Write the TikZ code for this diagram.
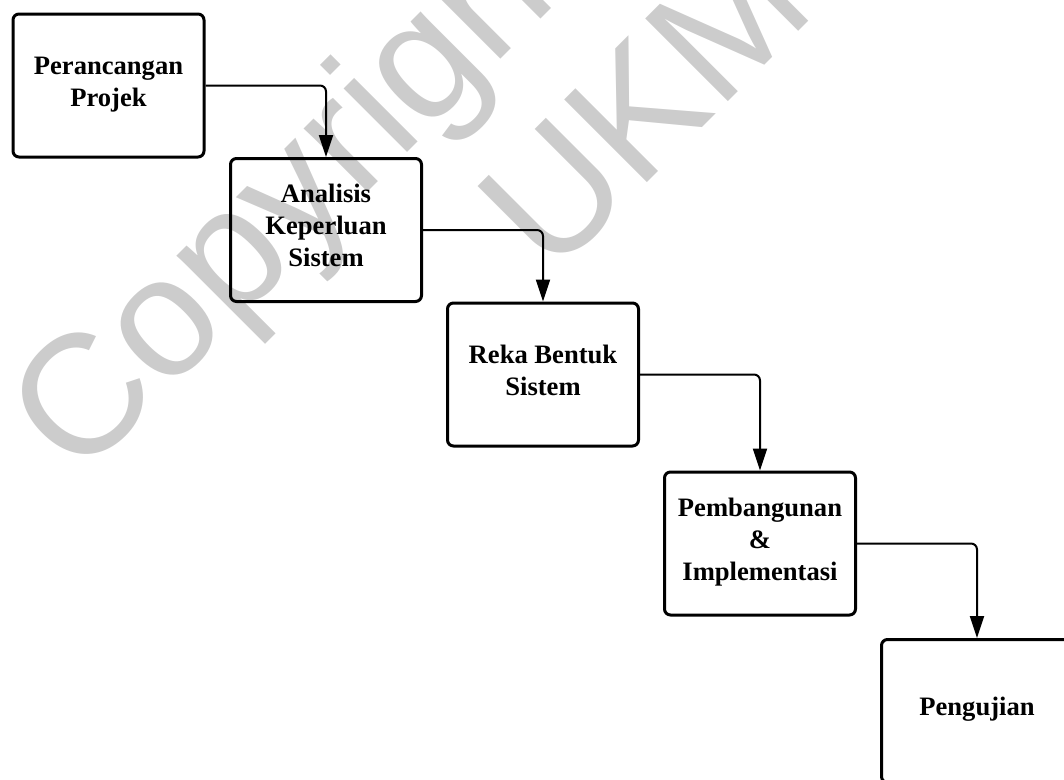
\documentclass[tikz,border=0pt]{standalone}
\usepackage{fontspec}
\setmainfont{Liberation Serif}
\newfontfamily\wmfont{Liberation Sans}
\usetikzlibrary{arrows.meta}
\definecolor{wmgray}{RGB}{204,204,204}
\newcommand\lnstrut{\rule[-11.5pt]{0pt}{32pt}}
\begin{document}
\begin{tikzpicture}[x=1pt,y=-1pt,
  stage/.style={draw, line width=3pt, rounded corners=6pt, minimum width=191pt, minimum height=143pt, inner sep=0pt, align=center, font=\fontsize{26.6}{32}\selectfont\bfseries},
  flow/.style={line width=2pt, rounded corners=6pt, -{Triangle[width=14pt,length=22pt]}},
  wm/.style={text=wmgray, rotate=45, anchor=base west, inner sep=0pt, font=\wmfont\fontsize{170}{170}\selectfont}]
\useasboundingbox (0,0) rectangle (1064,779);
\clip (0,0) rectangle (1064,779);
\node[wm] (wm1) at (78.5,481.6) {Copyright};
\node[wm] (wm2) at (551,279) {UKM};
\node[stage] (s1) at (108.5,85.5) {\lnstrut Perancangan\\\lnstrut Projek};
\node[stage] (s2) at (326,230) {\lnstrut Analisis\\\lnstrut Keperluan\\\lnstrut Sistem};
\node[stage] (s3) at (543,374.5) {\lnstrut Reka Bentuk\\\lnstrut Sistem};
\node[stage] (s4) at (760,543.5) {\lnstrut Pembangunan\\\lnstrut \&\\\lnstrut Implementasi};
\node[stage] (s5) at (977,711) {\lnstrut Pengujian};
\draw[flow] (s1.east) -| (s2.north);
\draw[flow] (s2.east) -| (s3.north);
\draw[flow] (s3.east) -| (s4.north);
\draw[flow] (s4.east) -| (s5.north);
\end{tikzpicture}
\end{document}
